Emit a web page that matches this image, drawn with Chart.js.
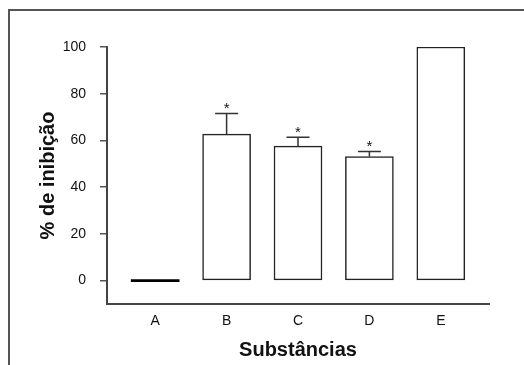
<!DOCTYPE html>
<html>
<head>
<meta charset="utf-8">
<script src="https://cdn.jsdelivr.net/npm/chart.js@4"></script>
<style>
    html, body { margin: 0; padding: 0; background: #fff; overflow: hidden; }
    .frame {
        position: absolute; left: 8px; top: 9px; width: 600px; height: 500px;
        border-left: 2px solid #555; border-top: 2px solid #555;
    }
    .wrap { position: absolute; left: 0; top: 0; width: 524px; height: 365px; }
</style>
</head>
<body>
<div class="frame"></div>
<div class="wrap"><canvas id="inhibitionChart" width="524" height="365"></canvas></div>
<script>
// Data
const categories = ['A', 'B', 'C', 'D', 'E'];
const inhibition = [0, 62.7, 57.6, 53.1, 100];
const errors = [0, 8.8, 3.8, 2.2, 0];
const markers = ['', '*', '*', '*', ''];
const yTicks = [0, 20, 40, 60, 80, 100];

const FONT = "'Liberation Sans', Arial, Helvetica, sans-serif";

// Error bars and significance stars on top of the bars
const errorBarPlugin = {
    id: 'errorBars',
    afterDatasetsDraw(chart) {
        const ctx = chart.ctx;
        const xs = chart.scales.x;
        const ys = chart.scales.y;
        ctx.save();
        ctx.strokeStyle = '#333';
        ctx.lineWidth = 1.5;
        inhibition.forEach((v, i) => {
            const x = xs.getPixelForValue(i);
            const yBar = ys.getPixelForValue(v);
            const yTop = ys.getPixelForValue(v + errors[i]);
            if (errors[i] > 0) {
                ctx.beginPath();
                ctx.moveTo(x, yBar);
                ctx.lineTo(x, yTop);
                ctx.moveTo(x - 11.5, yTop);
                ctx.lineTo(x + 11.5, yTop);
                ctx.stroke();
            }
            if (markers[i]) {
                ctx.fillStyle = '#111';
                ctx.font = '15px ' + FONT;
                ctx.textAlign = 'center';
                ctx.textBaseline = 'alphabetic';
                ctx.fillText(markers[i], x, yTop - 0.5);
            }
        });
        ctx.restore();
    }
};

document.addEventListener('DOMContentLoaded', function() {
    const ctx = document.getElementById('inhibitionChart');

    // a zero bar shows up as a solid black line on the baseline
    const isZero = (c) => c.raw && c.raw.y === 0;

    const data = {
        datasets: [{
            data: inhibition.map((v, i) => ({ x: i, y: v })),
            backgroundColor: (c) => (isZero(c) ? '#000' : '#ffffff'),
            borderColor: '#222',
            borderWidth: (c) => (isZero(c) ? 0 : 1.5),
            borderSkipped: false,
            barThickness: 48,
            minBarLength: 2
        }]
    };

    const config = {
        type: 'bar',
        data: data,
        options: {
            responsive: false,
            animation: false,
            layout: {
                padding: { top: 47, right: 35, left: 0, bottom: 0 }
            },
            plugins: {
                legend: { display: false },
                tooltip: { enabled: false }
            },
            scales: {
                x: {
                    type: 'linear',
                    offset: false,
                    min: -0.675,
                    max: 4.675,
                    afterBuildTicks: function(scale) {
                        scale.ticks = categories.map((c, i) => ({ value: i }));
                    },
                    afterFit: function(scale) {
                        scale.height = 61;
                    },
                    grid: { display: false },
                    border: { color: '#444', width: 2 },
                    ticks: {
                        padding: 1,
                        color: '#111',
                        font: { family: FONT, size: 14 },
                        callback: function(value) {
                            return categories[value] ?? '';
                        }
                    },
                    title: {
                        display: true,
                        text: 'Substâncias',
                        color: '#111',
                        font: { family: FONT, size: 20, weight: 'bold' },
                        padding: { top: 0, bottom: 3 }
                    }
                },
                y: {
                    min: -10,
                    max: 100,
                    afterBuildTicks: function(scale) {
                        scale.ticks = yTicks.map(v => ({ value: v }));
                    },
                    afterFit: function(scale) {
                        scale.width = 107;
                    },
                    grid: {
                        drawOnChartArea: false,
                        drawTicks: true,
                        tickLength: 7,
                        color: '#555',
                        lineWidth: 1.5
                    },
                    border: { color: '#444', width: 2 },
                    ticks: {
                        padding: 14,
                        color: '#111',
                        font: { family: FONT, size: 14 }
                    },
                    title: {
                        display: true,
                        text: '% de inibição',
                        color: '#111',
                        font: { family: FONT, size: 20, weight: 'bold' },
                        padding: { top: 36, bottom: 0 }
                    }
                }
            }
        },
        plugins: [errorBarPlugin]
    };

    new Chart(ctx, config);
});
</script>
</body>
</html>
